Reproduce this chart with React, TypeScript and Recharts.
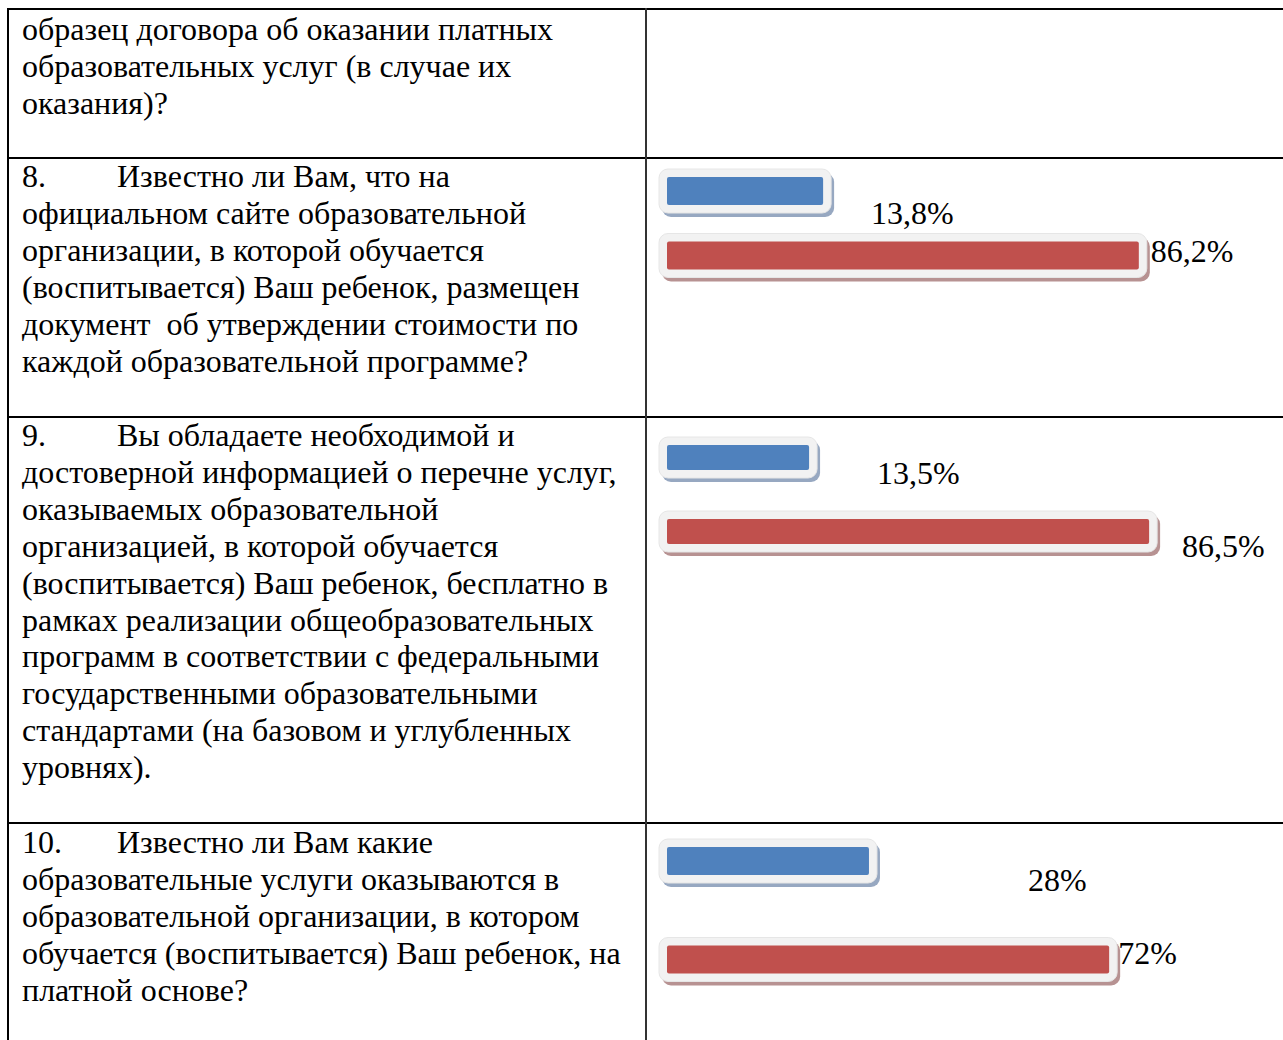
import { Bar, BarChart, Cell, LabelList, XAxis, YAxis } from "recharts";

// answers inside each question chart (axis hidden, as in the original)
const answerKeys = ["ответ 1", "ответ 2"];
const q8Values = [13.8, 86.2];
const q9Values = [13.5, 86.5];
const q10Values = [28, 72];

const barColors = ["#4F81BD", "#C0504D"];
const shadowColors = ["#97A8C1", "#B79292"];

const introLines = [
  "образец договора об оказании платных",
  "образовательных услуг (в случае их",
  "оказания)?",
];
const q8Lines = [
  "Известно ли Вам, что на",
  "официальном сайте образовательной",
  "организации, в которой обучается",
  "(воспитывается) Ваш ребенок, размещен",
  "документ  об утверждении стоимости по",
  "каждой образовательной программе?",
];
const q9Lines = [
  "Вы обладаете необходимой и",
  "достоверной информацией о перечне услуг,",
  "оказываемых образовательной",
  "организацией, в которой обучается",
  "(воспитывается) Ваш ребенок, бесплатно в",
  "рамках реализации общеобразовательных",
  "программ в соответствии с федеральными",
  "государственными образовательными",
  "стандартами (на базовом и углубленных",
  "уровнях).",
];
const q10Lines = [
  "Известно ли Вам какие",
  "образовательные услуги оказываются в",
  "образовательной организации, в котором",
  "обучается (воспитывается) Ваш ребенок, на",
  "платной основе?",
];

const FONT = '"Liberation Serif", "Times New Roman", serif';
const LINE_H = 36.9;
const PLOT_LEFT = 667;
const SIDE = 14; // room for the bar frame left of the plot

const toRows = (values: number[]) => values.map((value, i) => ({ name: answerKeys[i], value }));
const fmt = (v: number) => `${String(v).replace(".", ",")}%`;

function FramedBar(props: any) {
  const { x, y, width, height, index } = props;
  const pad = 8;
  return (
    <g>
      <rect x={x - pad + 3} y={y - pad + 4} width={width + pad * 2} height={height + pad * 2} rx={9} fill={shadowColors[index]} />
      <rect x={x - pad} y={y - pad} width={width + pad * 2} height={height + pad * 2} rx={9} fill="#F2F2F2" stroke="#E6E6E6" />
      <rect x={x} y={y} width={width} height={height} rx={2} fill={barColors[index]} />
    </g>
  );
}

type ChartBox = {
  top: number;
  height: number;
  plotWidth: number;
  barSize: number;
  axisMin: number;
  labelShift: [number, number][];
};

function QuestionChart({ values, box }: { values: number[]; box: ChartBox }) {
  const rows = toRows(values);
  return (
    <div style={{ position: "absolute", left: PLOT_LEFT - SIDE, top: box.top }}>
      <BarChart
        width={box.plotWidth + 130 + SIDE}
        height={box.height}
        data={rows}
        layout="vertical"
        margin={{ top: 0, right: 130, bottom: 0, left: SIDE }}
        barSize={box.barSize}
        style={{ overflow: "visible" }}
      >
        <XAxis type="number" domain={[box.axisMin, 100]} hide />
        <YAxis type="category" dataKey="name" hide />
        <Bar
          dataKey={(d: any) => [box.axisMin, d.value]}
          shape={FramedBar}
          isAnimationActive={false}
        >
          {rows.map((r, i) => (
            <Cell key={r.name} fill={barColors[i]} />
          ))}
          <LabelList
            dataKey="value"
            content={(p: any) => {
              const [dx, dy] = box.labelShift[p.index] || [10, 0];
              return (
                <text
                  x={p.x + p.width + dx}
                  y={p.y + p.height / 2 + dy}
                  dominantBaseline="central"
                  fontFamily={FONT}
                  fontSize={32}
                  fill="#000"
                >
                  {fmt(p.value)}
                </text>
              );
            }}
          />
        </Bar>
      </BarChart>
    </div>
  );
}

function CellText({ top, num, lines }: { top: number; num?: string; lines: string[] }) {
  return (
    <div
      style={{
        position: "absolute",
        left: 22,
        top,
        fontFamily: FONT,
        fontSize: 32,
        lineHeight: `${LINE_H}px`,
        color: "#000",
        whiteSpace: "pre",
      }}
    >
      {lines.map((line, i) => (
        <div key={i}>
          {i === 0 && num ? <span style={{ display: "inline-block", width: 95 }}>{num}</span> : null}
          {line}
        </div>
      ))}
    </div>
  );
}

const hLine = (top: number) => (
  <div key={top} style={{ position: "absolute", left: 7, top, width: 1290, height: 2, background: "#000" }} />
);

export default function App() {
  return (
    <div style={{ position: "absolute", left: 0, top: 0, width: 1283, height: 1040, overflow: "hidden", background: "#fff" }}>
      {[8, 157, 416, 822].map(hLine)}
      <div style={{ position: "absolute", left: 7, top: 8, width: 2, height: 1040, background: "#000" }} />
      <div style={{ position: "absolute", left: 645, top: 8, width: 2, height: 1040, background: "#333" }} />

      <CellText top={11} lines={introLines} />
      <CellText top={158} num="8." lines={q8Lines} />
      <CellText top={417} num="9." lines={q9Lines} />
      <CellText top={824} num="10." lines={q10Lines} />

      <QuestionChart
        values={q8Values}
        box={{ top: 159, height: 129, plotWidth: 532, barSize: 28, axisMin: -22, labelShift: [[48, 22], [12, -5]] }}
      />
      <QuestionChart
        values={q9Values}
        box={{ top: 420, height: 148, plotWidth: 545, barSize: 25, axisMin: -17, labelShift: [[68, 15], [33, 14]] }}
      />
      <QuestionChart
        values={q10Values}
        box={{ top: 812, height: 197, plotWidth: 595, barSize: 28, axisMin: -9, labelShift: [[159, 19], [9, -7]] }}
      />
    </div>
  );
}
